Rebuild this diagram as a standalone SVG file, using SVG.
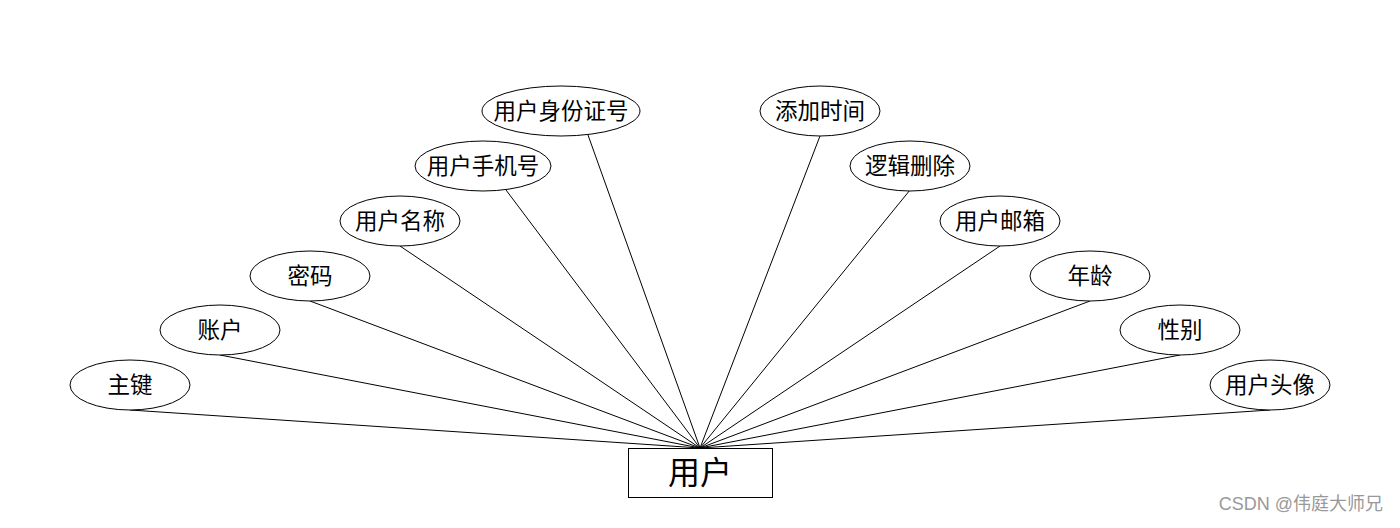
<svg xmlns="http://www.w3.org/2000/svg" width="1400" height="528" viewBox="0 0 1400 528">
<style>
.e{fill:#fff;stroke:#000;stroke-width:1}
.t{font-family:"Liberation Sans","Noto Sans CJK SC",sans-serif;font-size:22.5px;fill:#000;text-anchor:middle;dominant-baseline:central}
.c line{stroke:#000;stroke-width:1}
</style>
<rect width="1400" height="528" fill="#fff"/>
<g class="c" id="connectors">
<line x1="130" y1="410" x2="700" y2="448"/>
<line x1="220" y1="355" x2="700" y2="448"/>
<line x1="310" y1="301" x2="700" y2="448"/>
<line x1="400" y1="246" x2="700" y2="448"/>
<line x1="506" y1="190" x2="700" y2="448"/>
<line x1="588" y1="135" x2="700" y2="448"/>
<line x1="820" y1="136" x2="700" y2="448"/>
<line x1="910" y1="190" x2="700" y2="448"/>
<line x1="1000" y1="246" x2="700" y2="448"/>
<line x1="1090" y1="301" x2="700" y2="448"/>
<line x1="1180" y1="355" x2="700" y2="448"/>
<line x1="1270" y1="410" x2="700" y2="448"/>
</g>
<g id="n1"><ellipse class="e" cx="130" cy="385" rx="60" ry="25"/><text class="t" x="130" y="385">主键</text></g>
<g id="n2"><ellipse class="e" cx="220" cy="330" rx="60" ry="25"/><text class="t" x="220" y="330">账户</text></g>
<g id="n3"><ellipse class="e" cx="310" cy="276" rx="60" ry="25"/><text class="t" x="310" y="276">密码</text></g>
<g id="n4"><ellipse class="e" cx="400" cy="221" rx="60" ry="25"/><text class="t" x="400" y="221">用户名称</text></g>
<g id="n5"><ellipse class="e" cx="483" cy="166" rx="68" ry="25"/><text class="t" x="483" y="166">用户手机号</text></g>
<g id="n6"><ellipse class="e" cx="561" cy="111" rx="79" ry="25"/><text class="t" x="561" y="111">用户身份证号</text></g>
<g id="n7"><ellipse class="e" cx="820" cy="111" rx="60" ry="25"/><text class="t" x="820" y="111">添加时间</text></g>
<g id="n8"><ellipse class="e" cx="910" cy="166" rx="60" ry="25"/><text class="t" x="910" y="166">逻辑删除</text></g>
<g id="n9"><ellipse class="e" cx="1000" cy="221" rx="60" ry="25"/><text class="t" x="1000" y="221">用户邮箱</text></g>
<g id="n10"><ellipse class="e" cx="1090" cy="276" rx="60" ry="25"/><text class="t" x="1090" y="276">年龄</text></g>
<g id="n11"><ellipse class="e" cx="1180" cy="330" rx="60" ry="25"/><text class="t" x="1180" y="330">性别</text></g>
<g id="n12"><ellipse class="e" cx="1270" cy="385" rx="60" ry="25"/><text class="t" x="1270" y="385">用户头像</text></g>
<g id="user"><rect x="628.5" y="448.5" width="144" height="49" fill="#fff" stroke="#000"/><text class="t" x="700" y="473" style="font-size:32px">用户</text></g>
<text x="1383" y="510" text-anchor="end" style="font-family:'Liberation Sans','Noto Sans CJK SC',sans-serif;font-size:18px;fill:#999">CSDN @伟庭大师兄</text>
</svg>
